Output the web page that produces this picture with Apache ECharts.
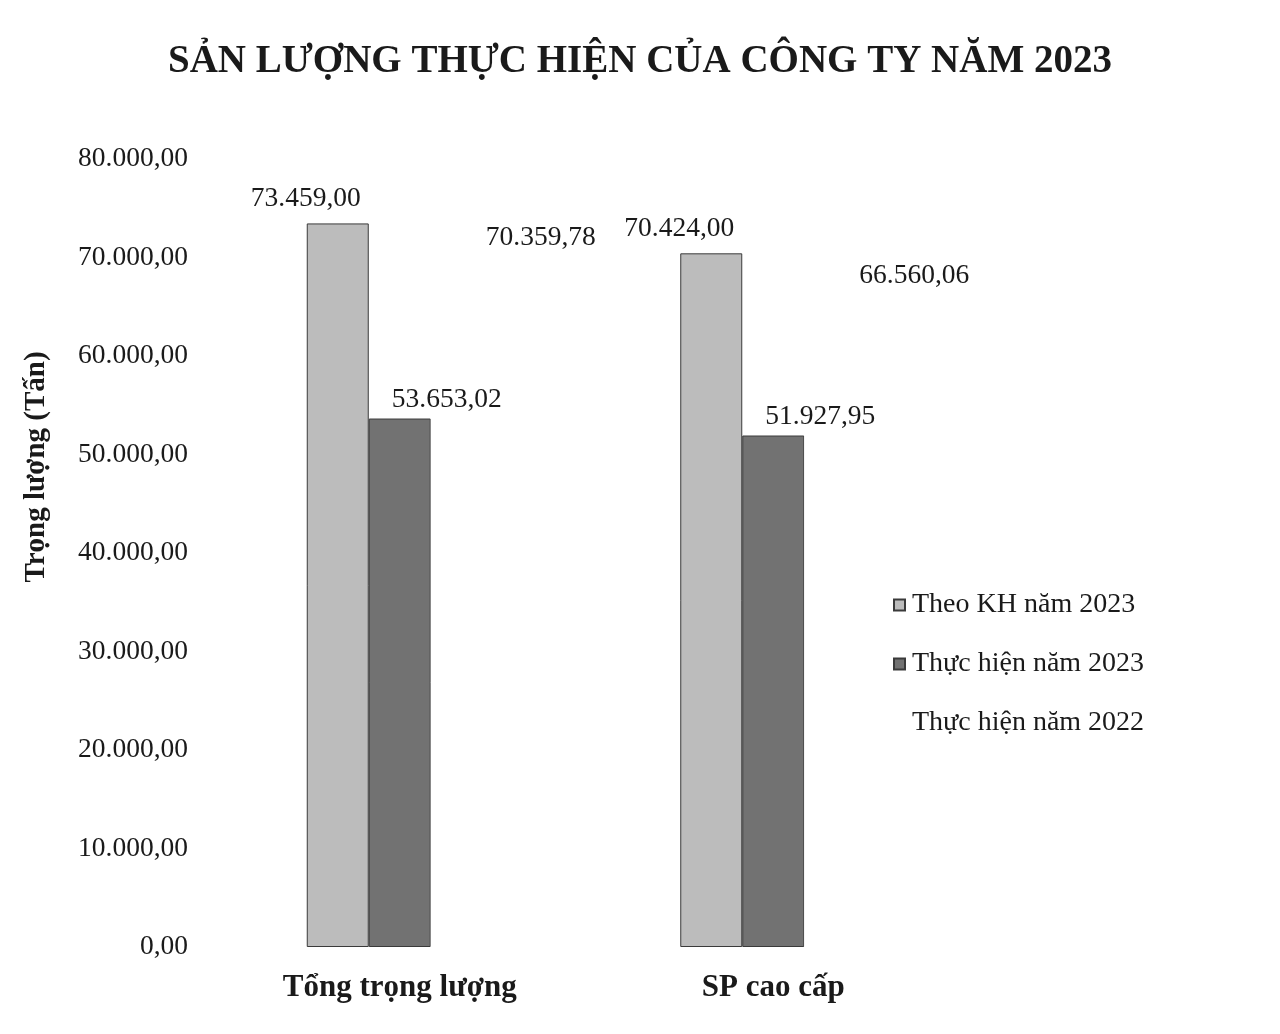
<!DOCTYPE html>
<html>
<head>
<meta charset="utf-8">
<script src="https://cdn.jsdelivr.net/npm/echarts@6/dist/echarts.min.js"></script>
<style>
  html, body { margin: 0; padding: 0; background: #ffffff; }
  #chart { width: 1280px; height: 1034px; }
</style>
</head>
<body>
<div id="chart"></div>
<script>
// danh mục và số liệu
var categories = ['Tổng trọng lượng', 'SP cao cấp'];
var keHoach2023 = [73459.00, 70424.00];
var thucHien2023 = [53653.02, 51927.95];
var thucHien2022 = [70359.78, 66560.06];
var seriesNames = ['Theo KH năm 2023', 'Thực hiện năm 2023', 'Thực hiện năm 2022'];

// định dạng số kiểu Việt Nam: 80.000,00
function fmt(v) {
    var parts = Number(v).toFixed(2).split('.');
    var intPart = parts[0].replace(/\B(?=(\d{3})+(?!\d))/g, '.');
    return intPart + ',' + parts[1];
}

var serif = '"Liberation Serif", "DejaVu Serif", serif';
var myChart = echarts.init(document.getElementById('chart'));

function makeLabel(distance, offset) {
    return {
        show: true,
        position: 'top',
        distance: distance,
        offset: offset,
        fontFamily: serif,
        fontSize: 27.5,
        color: '#1a1a1a',
        formatter: function (p) { return fmt(p.value); }
    };
}

myChart.setOption({
    backgroundColor: '#ffffff',
    animation: false,
    title: {
        text: 'SẢN LƯỢNG THỰC HIỆN CỦA CÔNG TY NĂM 2023',
        left: 'center',
        top: 37,
        textStyle: { fontFamily: serif, fontSize: 39, fontWeight: 'bold', color: '#1a1a1a' }
    },
    legend: {
        orient: 'vertical',
        left: 888,
        top: 586,
        icon: 'rect',
        itemWidth: 11,
        itemHeight: 11,
        itemGap: 31,
        textStyle: { fontFamily: serif, fontSize: 28, color: '#1a1a1a', padding: [0, 0, 0, 2] },
        data: seriesNames
    },
    grid: { left: 213, right: 320, top: 159, bottom: 87 },
    xAxis: {
        type: 'category',
        data: categories,
        axisLine: { show: false },
        axisTick: { show: false },
        axisLabel: {
            margin: 25,
            fontFamily: serif,
            fontSize: 31,
            fontWeight: 'bold',
            color: '#1a1a1a'
        }
    },
    yAxis: {
        type: 'value',
        min: 0,
        max: 80000,
        interval: 10000,
        name: 'Trọng lượng (Tấn)',
        nameLocation: 'middle',
        nameGap: 162,
        nameTextStyle: {
            fontFamily: serif, fontSize: 29, fontWeight: 'bold', color: '#1a1a1a',
            padding: [0, 0, 0, 172]
        },
        axisLine: { show: false },
        axisTick: { show: false },
        splitLine: { show: false },
        axisLabel: {
            margin: 25,
            fontFamily: serif,
            fontSize: 27.5,
            color: '#1a1a1a',
            formatter: function (v) { return fmt(v); }
        }
    },
    series: [
        {
            name: seriesNames[0],
            type: 'bar',
            barWidth: 62,
            barGap: '0%',
            data: keHoach2023,
            itemStyle: { color: '#bcbcbc', borderColor: '#3a3a3a', borderWidth: 1 },
            label: makeLabel(11, [-32, 0])
        },
        {
            name: seriesNames[1],
            type: 'bar',
            barWidth: 62,
            barGap: '0%',
            data: thucHien2023,
            itemStyle: { color: '#727272', borderColor: '#3a3a3a', borderWidth: 1 },
            label: makeLabel(5, [47, 0])
        },
        {
            name: seriesNames[2],
            type: 'bar',
            barWidth: 62,
            barGap: '0%',
            data: thucHien2022,
            itemStyle: { color: '#ffffff' },
            label: makeLabel(2, [79, 0])
        }
    ]
});
</script>
</body>
</html>
